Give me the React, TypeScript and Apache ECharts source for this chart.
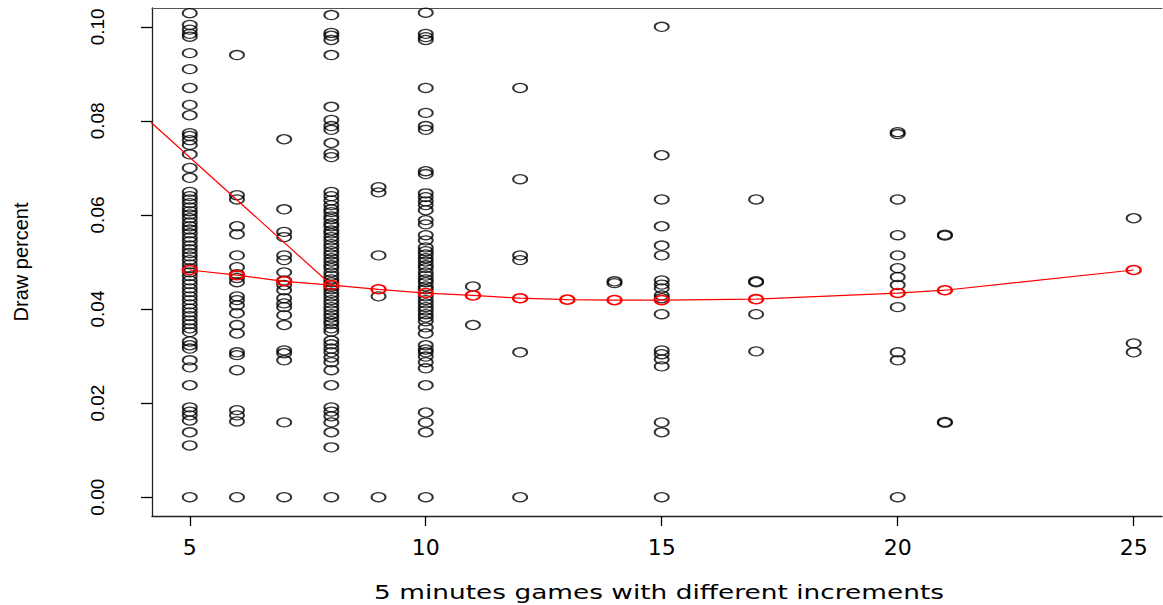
import React, { useEffect, useRef } from "react";
import * as echarts from "echarts";

// x positions (increment) of each column of observations
const increments = [5, 6, 7, 8, 9, 10, 11, 12, 14, 15, 17, 20, 21, 25];

// draw percent observations per increment
const draws5 = [
  0.1029, 0.1004, 0.0994, 0.0985, 0.0979, 0.0944, 0.091, 0.087, 0.0834, 0.0812, 0.0774, 0.0768, 0.0759, 0.0749,
  0.0729, 0.07, 0.0679, 0.0649, 0.064, 0.0633, 0.0625, 0.0616, 0.0608, 0.0601, 0.0593, 0.0584, 0.0576, 0.0569,
  0.0561, 0.0552, 0.0544, 0.0535, 0.0527, 0.0519, 0.0512, 0.0504, 0.0495, 0.0487, 0.0478, 0.047, 0.0461, 0.0453,
  0.0444, 0.0436, 0.0427, 0.0419, 0.041, 0.0401, 0.0393, 0.0385, 0.0376, 0.0368, 0.0359, 0.0351, 0.0331, 0.0323,
  0.0316, 0.0291, 0.0276, 0.0238, 0.0191, 0.0182, 0.0174, 0.0163, 0.0138, 0.011, 0,
];
const draws6 = [
  0.094, 0.0642, 0.0633, 0.0576, 0.0559, 0.0514, 0.0489, 0.0474, 0.0466, 0.0457, 0.0427, 0.0419, 0.0408, 0.0391,
  0.0366, 0.0348, 0.0308, 0.0302, 0.027, 0.0185, 0.0174, 0.0161, 0,
];
const draws7 = [
  0.0761, 0.0612, 0.0564, 0.0553, 0.0514, 0.0504, 0.0478, 0.0461, 0.0451, 0.044, 0.0423, 0.0412, 0.0404, 0.0387,
  0.0366, 0.0312, 0.0306, 0.0291, 0.0159, 0,
];
const draws8 = [
  0.1025, 0.0987, 0.0981, 0.0972, 0.094, 0.083, 0.0802, 0.0789, 0.0781, 0.0753, 0.0731, 0.0723, 0.0649, 0.064,
  0.0631, 0.0621, 0.0612, 0.0606, 0.0597, 0.0591, 0.0582, 0.0576, 0.0567, 0.0561, 0.0553, 0.0546, 0.0538, 0.0531,
  0.0523, 0.0516, 0.0508, 0.0501, 0.0493, 0.0487, 0.0478, 0.0471, 0.0463, 0.0457, 0.0448, 0.0442, 0.0434, 0.0427,
  0.0419, 0.0412, 0.0404, 0.0397, 0.0389, 0.0382, 0.0374, 0.0368, 0.0359, 0.0352, 0.0333, 0.0325, 0.0316, 0.0308,
  0.0297, 0.0287, 0.027, 0.0238, 0.0191, 0.0182, 0.0172, 0.0159, 0.0138, 0.0106, 0,
];
const draws9 = [0.0659, 0.0648, 0.0514, 0.0427, 0];
const draws10 = [
  0.103, 0.0985, 0.0978, 0.0972, 0.087, 0.0817, 0.0789, 0.0781, 0.0693, 0.0687, 0.0646, 0.0638, 0.0629, 0.0621,
  0.061, 0.0589, 0.058, 0.0557, 0.0546, 0.0531, 0.0523, 0.0516, 0.0508, 0.0501, 0.0493, 0.0487, 0.0478, 0.0471,
  0.0463, 0.0457, 0.0448, 0.0442, 0.0427, 0.0419, 0.0412, 0.0404, 0.0397, 0.0389, 0.0382, 0.0374, 0.0361, 0.0348,
  0.0323, 0.0314, 0.0308, 0.0299, 0.0287, 0.0274, 0.0238, 0.018, 0.0159, 0.0138, 0,
];
const draws11 = [0.0448, 0.0366];
const draws12 = [0.087, 0.0676, 0.0514, 0.0504, 0.0308, 0];
const draws14 = [0.0459, 0.0455];
const draws15 = [
  0.1, 0.0727, 0.0633, 0.0576, 0.0535, 0.0514, 0.0461, 0.0452, 0.0444, 0.0429, 0.0423, 0.0389, 0.0312, 0.0304,
  0.0293, 0.0278, 0.0159, 0.0138, 0,
];
const draws17 = [0.0633, 0.0459, 0.0457, 0.0389, 0.031];
const draws20 = [0.0776, 0.0772, 0.0633, 0.0557, 0.0514, 0.0487, 0.0468, 0.0451, 0.0404, 0.0308, 0.0291, 0];
const draws21 = [0.0558, 0.0556, 0.016, 0.0158];
const draws25 = [0.0593, 0.0327, 0.0308];

const drawColumns = [
  draws5, draws6, draws7, draws8, draws9, draws10, draws11, draws12, draws14, draws15, draws17, draws20, draws21,
  draws25,
];

// fitted curve (red)
const fitX = [5, 6, 7, 8, 9, 10, 11, 12, 13, 14, 15, 17, 20, 21, 25];
const fitY = [
  0.0483, 0.0472, 0.0459, 0.0451, 0.0442, 0.0434, 0.0429, 0.0423, 0.042, 0.0419, 0.0419, 0.0421, 0.0434, 0.044,
  0.0483,
];

// stray red segment entering from the left edge
const strayX = [4.0, 8];
const strayY = [0.0813, 0.0451];

// axis ticks
const xTicks = [5, 10, 15, 20, 25];
const yTicks = [0, 0.02, 0.04, 0.06, 0.08, 0.1];

const sans = "'Liberation Sans', Arial, sans-serif";
const wide = "'DejaVu Sans', sans-serif";

export default function App() {
  const ref = useRef<HTMLDivElement>(null);

  useEffect(() => {
    if (!ref.current) return;
    const chart = echarts.init(ref.current, null, { renderer: "svg" });

    const scatterData: number[][] = [];
    increments.forEach((x, i) => {
      drawColumns[i].forEach((v) => scatterData.push([x, v]));
    });
    const fitData = fitX.map((x, i) => [x, fitY[i]]);
    const strayData = strayX.map((x, i) => [x, strayY[i]]);

    chart.setOption({
      animation: false,
      backgroundColor: "#ffffff",
      grid: {
        left: 152,
        top: 8,
        bottom: 89,
        right: 1,
        show: false,
      },
      xAxis: [
        {
          type: "value",
          min: 4.2,
          max: 25.6,
          position: "bottom",
          axisLine: { show: true, onZero: false, lineStyle: { color: "#222", width: 1.3 } },
          splitLine: { show: false },
          axisTick: { show: true, length: 10, customValues: xTicks, lineStyle: { color: "#000", width: 1.3 } },
          axisLabel: {
            customValues: xTicks,
            margin: 20,
            fontSize: 22,
            fontFamily: wide,
            color: "#000",
          },
        },
        {
          type: "value",
          min: 4.2,
          max: 25.6,
          position: "top",
          axisLine: { show: true, onZero: false, lineStyle: { color: "#555", width: 1.2 } },
          axisTick: { show: false },
          axisLabel: { show: false },
          splitLine: { show: false },
        },
      ],
      yAxis: {
        type: "value",
        min: -0.004,
        max: 0.104,
        name: "Draw percent",
        nameLocation: "middle",
        nameRotate: 90,
        nameGap: 121,
        nameTextStyle: { fontSize: 20, fontFamily: sans, color: "#000" },
        axisLine: { show: true, onZero: false, lineStyle: { color: "#222", width: 1.3 } },
        splitLine: { show: false },
        axisTick: { show: true, length: 11, customValues: yTicks, lineStyle: { color: "#000", width: 1.3 } },
        axisLabel: {
          customValues: yTicks,
          rotate: 90,
          margin: 45,
          fontSize: 19,
          fontFamily: sans,
          color: "#000",
          formatter: (v: number) => v.toFixed(2),
        },
      },
      graphic: [
        {
          type: "text",
          x: 659,
          y: 592,
          scaleX: 1.32,
          style: {
            text: "5 minutes games with different increments",
            font: `20px ${wide}`,
            fill: "#000",
            align: "center",
            verticalAlign: "middle",
          },
        },
      ],
      series: [
        {
          type: "scatter",
          data: scatterData,
          symbol: "circle",
          symbolSize: [14, 9],
          itemStyle: { color: "rgba(0,0,0,0)", borderColor: "#000", borderWidth: 1.6 },
          silent: true,
          z: 2,
        },
        {
          type: "line",
          data: strayData,
          showSymbol: false,
          symbol: "none",
          lineStyle: { color: "#ff0000", width: 1.2 },
          clip: true,
          silent: true,
          z: 3,
        },
        {
          type: "line",
          data: fitData,
          symbol: "circle",
          symbolSize: [14, 9],
          showSymbol: true,
          itemStyle: { color: "rgba(0,0,0,0)", borderColor: "#ff0000", borderWidth: 1.9 },
          lineStyle: { color: "#ff0000", width: 1.2 },
          clip: true,
          silent: true,
          z: 4,
        },
      ],
    });

    return () => chart.dispose();
  }, []);

  return (
    <div
      ref={ref}
      style={{ position: "fixed", left: 0, top: 0, width: 1163, height: 605, background: "#fff" }}
    />
  );
}
